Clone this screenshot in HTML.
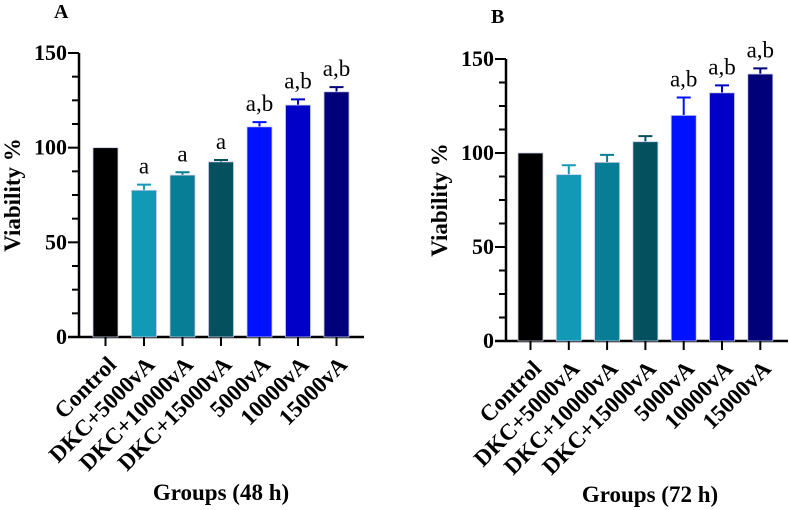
<!DOCTYPE html>
<html><head><meta charset="utf-8"><style>body{margin:0;background:#fff}svg{display:block}</style></head>
<body>
<svg id="c" width="790" height="510" xmlns="http://www.w3.org/2000/svg" font-family="'Liberation Serif',serif"></svg>
<script>
const categories = ["Control","DKC+5000vA","DKC+10000vA","DKC+15000vA","5000vA","10000vA","15000vA"];
const colors = ["#000000","#1299b5","#087d96","#04505f","#0011ff","#0000c8","#00007a"];
const valuesA = [100, 77.5, 85.5, 92.5, 111, 122.5, 129.5];
const errorsA = [0, 3, 1.5, 1, 2.5, 3, 2.5];
const sigA = ["", "a", "a", "a", "a,b", "a,b", "a,b"];
const valuesB = [100, 88.5, 95, 106, 120, 132, 142];
const errorsB = [0, 5, 4, 3, 9.5, 4, 3];
const sigB = ["", "", "", "", "a,b", "a,b", "a,b"];
const yTicks = [0, 50, 100, 150];
const svg = document.getElementById('c');
const NS = "http://www.w3.org/2000/svg";
function mk(tag, attrs, parent, text){
  const e = document.createElementNS(NS, tag);
  for (const k in attrs) e.setAttribute(k, attrs[k]);
  if (text !== undefined) e.textContent = text;
  parent.appendChild(e);
  return e;
}
function panel(id, letter, cfg, values, errors, sig, xtitle){
  const g = mk('g', {}, svg);
  
  
  const y = v => cfg.y0 - (v / 150) * (cfg.y0 - cfg.y150);
  const xc = i => cfg.c0 + i * cfg.step;
  const t = mk('text', {x: cfg.letterX, y: cfg.letterY, 'font-size': 20, 'font-weight': 'bold'}, g, letter);
  
  
  const ya = mk('line', {x1: cfg.ax, y1: cfg.y150, x2: cfg.ax, y2: cfg.y0 + 1, stroke: '#000', 'stroke-width': 2.5}, g);
  
  
  const xa = mk('line', {x1: cfg.ax - 11, y1: cfg.y0, x2: cfg.xEnd, y2: cfg.y0, stroke: '#000', 'stroke-width': 2.5}, g);
  
  
  for (let v = 0; v <= 150; v += 12.5) {
    const major = yTicks.indexOf(v) >= 0;
    mk('line', {x1: cfg.ax - (major ? 11 : 7), y1: y(v), x2: cfg.ax, y2: y(v), stroke: '#000', 'stroke-width': 2}, g);
  }
  yTicks.forEach(v => {
    const tl = mk('text', {x: cfg.ax - 12, y: y(v) + 7, 'font-size': 22, 'font-weight': 'bold', 'text-anchor': 'end'}, g, String(v));
    
    
  });
  const yt = mk('text', {x: 0, y: 0, 'font-size': 23, 'font-weight': 'bold', 'text-anchor': 'middle', transform: `translate(${cfg.ax - 59},${y(75)}) rotate(-90)`}, g, 'Viability %');
  
  
  values.forEach((v, i) => {
    const cx = xc(i), w = 25;
    const col = colors[i];
    if (errors[i] > 0) {
      const top = y(v + errors[i]);
      const eb = mk('path', {d: `M${cx},${y(v)}V${top}M${cx - 7},${top}H${cx + 7}`, stroke: col, 'stroke-width': 2, fill: 'none'}, g);
      
      
    }
    const r = mk('rect', {x: cx - w / 2, y: y(v), width: w, height: cfg.y0 - y(v), fill: col, stroke: '#c8cce8', 'stroke-width': 0.8}, g);
    
    
    mk('line', {x1: cx, y1: cfg.y0, x2: cx, y2: cfg.y0 + 9, stroke: '#000', 'stroke-width': 2}, g);
    if (sig[i]) {
      const s = mk('text', {x: cx, y: y(v + errors[i]) - 11, 'font-size': 23, 'text-anchor': 'middle'}, g, sig[i]);
      
      
    }
    const lx = cx + 12, ly = cfg.y0 + 29;
    const cl = mk('text', {x: lx, y: ly, 'font-size': 23, 'font-weight': 'bold', 'text-anchor': 'end', transform: `rotate(-45 ${lx} ${ly})`}, g, categories[i]);
    
    
  });
  const xt = mk('text', {x: cfg.xtX, y: cfg.xtY, 'font-size': 23, 'font-weight': 'bold', 'text-anchor': 'middle'}, g, xtitle);
  
  
}
panel('a', 'A', {ax: 79, y0: 337, y150: 53, c0: 105.5, step: 38.5, xEnd: 364, letterX: 54, letterY: 18, xtX: 221, xtY: 500}, valuesA, errorsA, sigA, 'Groups (48 h)');
panel('b', 'B', {ax: 506, y0: 341, y150: 59, c0: 530.5, step: 38.3, xEnd: 788, letterX: 491, letterY: 23, xtX: 650, xtY: 502}, valuesB, errorsB, sigB, 'Groups (72 h)');
</script>
</body></html>
